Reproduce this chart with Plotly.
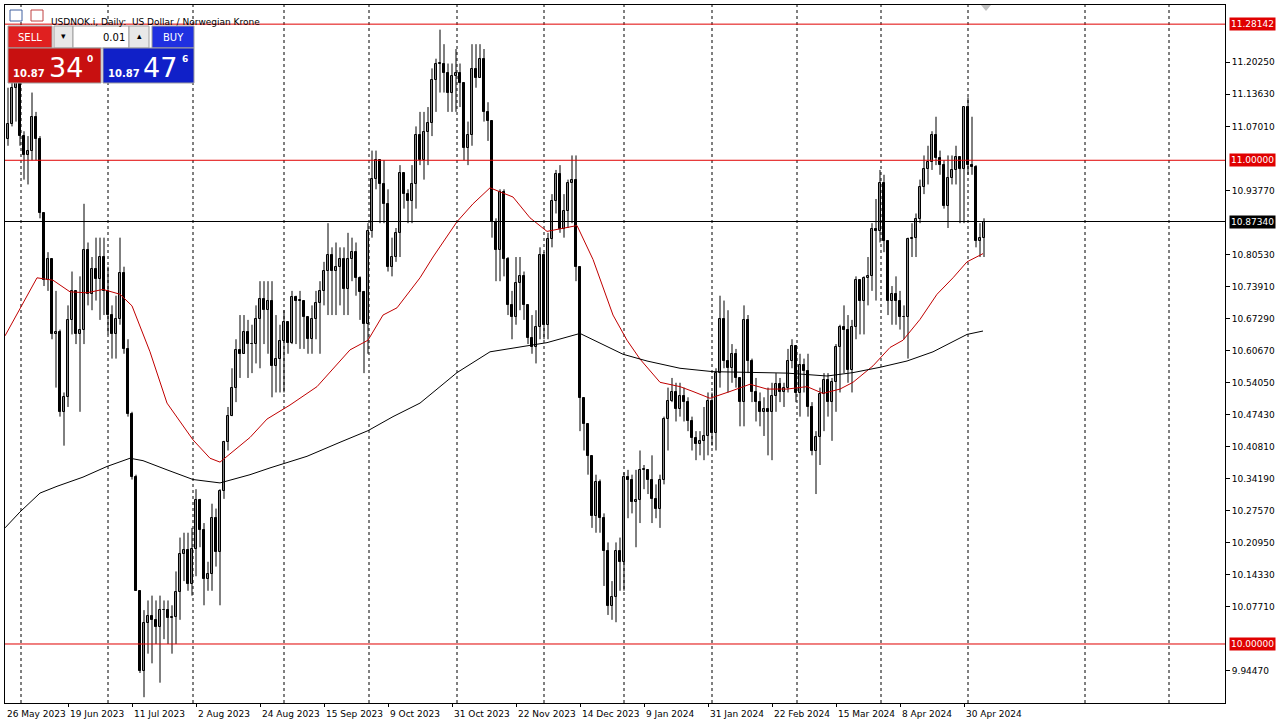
import plotly.graph_objects as go

# daily candles, USDNOK 26 May 2023 .. 7 May 2024 (bar index = trading day)
first_open = 11.065
closes = [
    11.045, 11.075, 11.15, 11.16, 11.05, 11.01, 11.02, 11.09, 11.045, 10.89,
    10.752, 10.795, 10.64, 10.645, 10.48, 10.51, 10.67, 10.73, 10.64, 10.65,
    10.814, 10.724, 10.776, 10.755, 10.80, 10.73, 10.68, 10.64, 10.671, 10.766,
    10.61, 10.475, 10.345, 10.11, 9.945, 10.044, 10.058, 10.05, 10.035, 10.07,
    10.07, 10.054, 10.055, 10.107, 10.187, 10.195, 10.125, 10.197, 10.297, 10.235,
    10.135, 10.145, 10.26, 10.19, 10.317, 10.418, 10.471, 10.53, 10.607, 10.60,
    10.645, 10.62, 10.62, 10.671, 10.713, 10.69, 10.71, 10.574, 10.59, 10.627,
    10.665, 10.623, 10.718, 10.71, 10.71, 10.675, 10.63, 10.671, 10.704, 10.73,
    10.771, 10.805, 10.771, 10.78, 10.795, 10.733, 10.795, 10.81, 10.757, 10.727,
    10.661, 10.853, 10.962, 11.0, 10.95, 10.91, 10.78, 10.80, 10.85, 10.973,
    10.93, 10.915, 10.95, 11.053, 11.0, 11.058, 11.077, 11.165, 11.20, 11.20,
    11.18, 11.14, 11.175, 11.18, 11.16, 11.025, 11.053, 11.188, 11.17, 11.21,
    11.10, 11.082, 10.873, 10.815, 10.934, 10.795, 10.70, 10.675, 10.747, 10.76,
    10.70, 10.632, 10.615, 10.656, 10.805, 10.66, 10.838, 10.915, 10.972, 10.857,
    10.895, 10.953, 10.96, 10.78, 10.508, 10.455, 10.388, 10.264, 10.335, 10.26,
    10.192, 10.078, 10.097, 10.192, 10.17, 10.345, 10.34, 10.293, 10.297, 10.36,
    10.36, 10.34, 10.30, 10.28, 10.34, 10.465, 10.503, 10.52, 10.485, 10.513,
    10.50, 10.46, 10.425, 10.413, 10.42, 10.43, 10.503, 10.437, 10.56, 10.671,
    10.585, 10.57, 10.60, 10.55, 10.50, 10.67, 10.585, 10.52, 10.50, 10.48,
    10.485, 10.48, 10.513, 10.537, 10.52, 10.53, 10.585, 10.617, 10.518, 10.576,
    10.565, 10.489, 10.398, 10.427, 10.517, 10.546, 10.50, 10.541, 10.613, 10.655,
    10.65, 10.567, 10.656, 10.752, 10.71, 10.757, 10.76, 10.857, 10.853, 10.952,
    10.834, 10.709, 10.723, 10.71, 10.675, 10.676, 10.838, 10.84, 10.878, 10.944,
    10.982, 10.996, 11.053, 11.005, 10.99, 10.905, 10.963, 10.98, 11.006, 10.982,
    11.11, 10.99, 10.986, 10.833, 10.84, 10.8734,
]
highs = [
    11.10, 11.15, 11.20, 11.20, 11.16, 11.06, 11.05, 11.14, 11.10, 11.05,
    10.88, 10.81, 10.79, 10.73, 10.65, 10.52, 10.70, 10.77, 10.73, 10.76,
    10.91, 10.83, 10.80, 10.84, 10.84, 10.84, 10.78, 10.70, 10.72, 10.84,
    10.78, 10.63, 10.48, 10.35, 10.11, 10.07, 10.09, 10.10, 10.09, 10.10,
    10.09, 10.09, 10.08, 10.15, 10.22, 10.23, 10.23, 10.24, 10.32, 10.30,
    10.25, 10.17, 10.29, 10.28, 10.32, 10.42, 10.49, 10.57, 10.63, 10.68,
    10.68, 10.67, 10.66, 10.70, 10.75, 10.75, 10.75, 10.75, 10.68, 10.66,
    10.69, 10.66, 10.73, 10.72, 10.73, 10.71, 10.66, 10.70, 10.73, 10.75,
    10.79, 10.87, 10.82, 10.83, 10.82, 10.82, 10.85, 10.84, 10.83, 10.76,
    10.73, 10.87, 11.02, 11.02, 11.0, 11.0, 10.94, 10.84, 10.86, 10.99,
    10.96, 10.94, 10.99, 11.07, 11.10, 11.10, 11.11, 11.19, 11.21, 11.27,
    11.24, 11.20, 11.20, 11.23, 11.20, 11.15, 11.08, 11.24, 11.24, 11.24,
    11.23, 11.12, 11.06, 10.88, 10.94, 10.94, 10.80, 10.73, 10.80, 10.80,
    10.77, 10.70, 10.68, 10.69, 10.82, 10.81, 10.85, 10.93, 10.98, 10.99,
    10.93, 10.96, 11.01, 11.01, 10.77, 10.50, 10.45, 10.36, 10.35, 10.34,
    10.27, 10.21, 10.13, 10.21, 10.22, 10.355, 10.36, 10.35, 10.36, 10.40,
    10.37, 10.36, 10.39, 10.33, 10.35, 10.47, 10.53, 10.55, 10.54, 10.54,
    10.53, 10.51, 10.47, 10.44, 10.44, 10.49, 10.52, 10.52, 10.57, 10.72,
    10.71, 10.69, 10.62, 10.61, 10.55, 10.70, 10.68, 10.59, 10.55, 10.52,
    10.51, 10.53, 10.54, 10.56, 10.55, 10.54, 10.61, 10.63, 10.59, 10.60,
    10.59, 10.60, 10.50, 10.44, 10.53, 10.56, 10.56, 10.55, 10.62, 10.66,
    10.70, 10.68, 10.67, 10.76, 10.75, 10.76, 10.80, 10.87, 10.92, 10.98,
    10.97, 10.82, 10.74, 10.76, 10.73, 10.70, 10.84, 10.87, 10.89, 10.96,
    11.01, 11.03, 11.06, 11.09, 11.02, 11.00, 11.01, 11.01, 11.03, 11.00,
    11.11, 11.13, 11.09, 10.99, 10.87, 10.88,
]
lows = [
    11.03, 11.03, 11.07, 11.08, 11.03, 10.96, 10.95, 11.0, 11.0, 10.88,
    10.74, 10.73, 10.63, 10.53, 10.47, 10.41, 10.49, 10.64, 10.62, 10.48,
    10.62, 10.70, 10.69, 10.71, 10.67, 10.68, 10.64, 10.59, 10.59, 10.66,
    10.60, 10.47, 10.34, 10.11, 9.94, 9.89, 9.98, 9.96, 10.0, 9.92,
    10.01, 10.0, 9.98, 10.0, 10.05, 10.13, 10.11, 10.10, 10.14, 10.20,
    10.08, 10.11, 10.11, 10.16, 10.08, 10.30, 10.40, 10.48, 10.50, 10.55,
    10.61, 10.55, 10.56, 10.58, 10.57, 10.62, 10.60, 10.51, 10.52, 10.52,
    10.52, 10.60, 10.62, 10.62, 10.61, 10.61, 10.60, 10.60, 10.63, 10.60,
    10.70, 10.68, 10.68, 10.68, 10.70, 10.68, 10.68, 10.75, 10.72, 10.67,
    10.56, 10.60, 10.84, 10.94, 10.87, 10.87, 10.77, 10.76, 10.79, 10.80,
    10.90, 10.87, 10.87, 10.90, 10.99, 10.96, 10.99, 11.05, 11.10, 11.14,
    11.14, 11.10, 11.10, 11.10, 11.11, 11.0, 10.99, 11.03, 11.15, 11.17,
    11.08, 11.04, 10.84, 10.75, 10.75, 10.76, 10.68, 10.63, 10.66, 10.69,
    10.67, 10.62, 10.60, 10.58, 10.63, 10.63, 10.63, 10.82, 10.89, 10.85,
    10.84, 10.86, 10.87, 10.75, 10.44, 10.40, 10.35, 10.24, 10.23, 10.23,
    10.12, 10.06, 10.05, 10.045, 10.11, 10.11, 10.26, 10.27, 10.20, 10.25,
    10.32, 10.31, 10.25, 10.26, 10.24, 10.33, 10.40, 10.50, 10.46, 10.47,
    10.46, 10.44, 10.40, 10.38, 10.39, 10.38, 10.39, 10.41, 10.40, 10.53,
    10.57, 10.52, 10.54, 10.53, 10.45, 10.45, 10.56, 10.50, 10.46, 10.45,
    10.43, 10.39, 10.38, 10.48, 10.50, 10.49, 10.52, 10.57, 10.50, 10.47,
    10.52, 10.47, 10.39, 10.31, 10.37, 10.44, 10.47, 10.42, 10.48, 10.52,
    10.56, 10.54, 10.52, 10.63, 10.64, 10.64, 10.70, 10.73, 10.71, 10.83,
    10.81, 10.68, 10.66, 10.66, 10.65, 10.63, 10.59, 10.80, 10.80, 10.87,
    10.93, 10.95, 10.98, 10.99, 10.97, 10.90, 10.86, 10.95, 10.95, 10.87,
    10.87, 10.97, 10.97, 10.82, 10.80, 10.80,
]

# moving averages (bar position, price)
ma_fast_x = [0.25, 8.25, 12.25, 16.5, 20.75, 24.75, 29, 32, 36.5, 40.75, 47.25, 51.5, 54, 57.25,
             61.5, 65.75, 71.5, 78.25, 86.5, 91, 94.75, 98.25, 104, 107.25, 113.25, 117.25,
             121.5, 127.25, 131.5, 135.75, 140.75, 143.25, 147.25, 152.25, 155.75, 159, 164,
             169, 172.25, 176.5, 181.5, 186.5, 190.75, 195.75, 200.75, 204.75, 209, 212.25,
             217.25, 221.5, 224.75, 229, 233.25, 237.25, 240.75, 244.75]
ma_fast_y = [10.637, 10.757, 10.752, 10.728, 10.726, 10.733, 10.723, 10.699, 10.604, 10.498,
             10.422, 10.384, 10.376, 10.398, 10.427, 10.465, 10.494, 10.532, 10.608, 10.628,
             10.680, 10.695, 10.757, 10.800, 10.873, 10.910, 10.943, 10.924, 10.881, 10.853,
             10.862, 10.865, 10.795, 10.680, 10.628, 10.589, 10.541, 10.532, 10.522, 10.508,
             10.522, 10.537, 10.527, 10.527, 10.532, 10.518, 10.527, 10.541, 10.575, 10.613,
             10.628, 10.671, 10.723, 10.757, 10.790, 10.807]
ma_slow_x = [0.25, 4, 9, 13.25, 19.75, 25.75, 31.5, 34.75, 40.75, 47.25, 54, 61.5, 66.5, 75.75,
             84, 91, 97.25, 104, 109, 113.25, 121.5, 131.5, 135.75, 144, 148.25, 154.75,
             160.75, 169, 177.25, 189.75, 195.75, 205.75, 212.25, 219, 225.75, 232.25,
             240.75, 244.75]
ma_slow_y = [10.240, 10.273, 10.312, 10.326, 10.345, 10.367, 10.384, 10.379, 10.360, 10.340,
             10.333, 10.350, 10.364, 10.388, 10.417, 10.441, 10.470, 10.498, 10.532, 10.561,
             10.604, 10.618, 10.623, 10.642, 10.625, 10.599, 10.585, 10.570, 10.563, 10.562,
             10.560, 10.554, 10.561, 10.572, 10.585, 10.604, 10.640, 10.647]

date_labels = ["26 May 2023", "19 Jun 2023", "11 Jul 2023", "2 Aug 2023", "24 Aug 2023",
               "15 Sep 2023", "9 Oct 2023", "31 Oct 2023", "22 Nov 2023", "14 Dec 2023",
               "9 Jan 2024", "31 Jan 2024", "22 Feb 2024", "15 Mar 2024", "8 Apr 2024",
               "30 Apr 2024"]
grid_bars = [4.25, 26, 47.25, 70, 91.25, 113.25, 135, 155, 177, 198.25, 219.25, 241, 270.25, 291.25]
price_ticks = [9.9447, 10.0771, 10.1433, 10.2095, 10.2757, 10.3419, 10.4081, 10.4743,
               10.5405, 10.6067, 10.6729, 10.7391, 10.8053, 10.9377, 11.0701, 11.1363, 11.2025]
level_lines = [(11.28142, "#E00000"), (11.0, "#E00000"), (10.0, "#E00000"), (10.8734, "#000000")]

FONT = "DejaVu Sans"
W, H = 1285, 725
L_, R_, T_, B_ = 5, 1225, 5, 703
X0, X1 = (L_ - 4) / 4, (R_ - 4) / 4   # bar i sits at pixel 4 + 4*i

opens = [first_open] + closes[:-1]
bars = list(range(len(closes)))
hi = [max(h, o, c) for h, o, c in zip(highs, opens, closes)]
lo = [min(l, o, c) for l, o, c in zip(lows, opens, closes)]


def px(x):
    return (x - L_) / (R_ - L_)


def py(y):
    return (B_ - y) / (B_ - T_)


fig = go.Figure()

# wicks
wx, wy = [], []
for i in bars:
    wx += [i, i, None]
    wy += [lo[i], hi[i], None]
fig.add_trace(go.Scatter(x=wx, y=wy, mode="lines", line=dict(color="black", width=1),
                         hoverinfo="skip", showlegend=False))

# bodies
base = [min(o, c) for o, c in zip(opens, closes)]
size = [max(abs(c - o), 0.0008) for o, c in zip(opens, closes)]
fill = ["white" if c >= o else "black" for o, c in zip(opens, closes)]
fig.add_trace(go.Bar(x=bars, y=size, base=base, width=0.62,
                     marker=dict(color=fill, line=dict(color="black", width=1)),
                     hoverinfo="skip", showlegend=False))

fig.add_trace(go.Scatter(x=ma_fast_x, y=ma_fast_y, mode="lines",
                         line=dict(color="#C00000", width=1), showlegend=False))
fig.add_trace(go.Scatter(x=ma_slow_x, y=ma_slow_y, mode="lines",
                         line=dict(color="black", width=1), showlegend=False))

shapes = []
for g in grid_bars:
    shapes.append(dict(type="line", xref="x", yref="paper", x0=g, x1=g, y0=0, y1=1,
                       line=dict(color="black", width=1, dash="dot"), layer="below"))
for lvl, col in level_lines:
    shapes.append(dict(type="line", xref="paper", yref="y", x0=0, x1=1, y0=lvl, y1=lvl,
                       line=dict(color=col, width=1)))

annotations = []
for lvl, col in level_lines:
    annotations.append(dict(xref="paper", yref="y", x=1, y=lvl, xanchor="left", xshift=4,
                            text=f"{lvl:.5f}", showarrow=False, bgcolor=col,
                            font=dict(color="white", size=9, family=FONT), borderpad=1))
for i, lab in enumerate(date_labels):
    xp = px(4 + 4 * i * 16)
    annotations.append(dict(xref="paper", yref="paper", x=max(xp, 0), y=0, xanchor="left",
                            yanchor="top", yshift=-4, text=lab, showarrow=False,
                            font=dict(size=9, family=FONT, color="black")))

# header
annotations.append(dict(xref="paper", yref="paper", x=px(49), y=py(15), xanchor="left",
                        text="USDNOK.i, Daily:  US Dollar / Norwegian Krone", showarrow=False,
                        font=dict(size=9, family=FONT, color="black")))
for x0, col in [(10, "#4060A0"), (31, "#C04040")]:
    shapes.append(dict(type="rect", xref="paper", yref="paper", x0=px(x0), x1=px(x0 + 12),
                       y0=py(21), y1=py(10), line=dict(color=col, width=1), fillcolor="white"))

# one-click trading panel
panel = [
    (8, 52, 26, 48, "#E02020"), (54, 73, 26, 48, "#E8E8E8"), (73, 129, 26, 48, "white"),
    (129, 149, 26, 48, "#E8E8E8"), (152, 194, 26, 48, "#2030E0"),
    (8, 101, 48, 83, "#C81010"), (103, 194, 48, 83, "#1020C8"),
]
for x0, x1, y0, y1, col in panel:
    shapes.append(dict(type="rect", xref="paper", yref="paper", x0=px(x0), x1=px(x1),
                       y0=py(y1), y1=py(y0), fillcolor=col,
                       line=dict(color="#A0A0A0", width=1)))
shapes.append(dict(type="path", xref="paper", yref="paper",
                   path=f"M {px(981)} {py(5)} L {px(991)} {py(5)} L {px(986)} {py(11)} Z",
                   fillcolor="#C0C0C0", line=dict(width=0)))


def txt(x, y, s, size, color, bold=False, anchor="left"):
    annotations.append(dict(xref="paper", yref="paper", x=px(x), y=py(y), xanchor=anchor,
                            yanchor="middle", text=f"<b>{s}</b>" if bold else s,
                            showarrow=False,
                            font=dict(size=size, color=color, family=FONT)))


txt(30, 37, "SELL", 10, "white", anchor="center")
txt(63, 36, "▾", 9, "black", anchor="center")
txt(127, 37, "0.01", 10, "black", anchor="right")
txt(139, 36, "▴", 9, "black", anchor="center")
txt(173, 37, "BUY", 10, "white", anchor="center")
txt(11, 73, "10.87", 10, "white", bold=True)
txt(47, 67, "34", 27, "white")
txt(85, 59, "0", 9, "white", bold=True)
txt(106, 73, "10.87", 10, "white", bold=True)
txt(141, 67, "47", 27, "white")
txt(180, 59, "6", 9, "white", bold=True)

fig.update_layout(
    width=W, height=H,
    margin=dict(l=L_, r=W - R_, t=T_, b=H - B_, autoexpand=False),
    paper_bgcolor="white", plot_bgcolor="white",
    shapes=shapes, annotations=annotations, bargap=0,
    xaxis=dict(range=[X0, X1], showgrid=False, zeroline=False, automargin=False,
               tickvals=[i * 16 for i in range(16)], ticktext=[""] * 16,
               ticks="outside", ticklen=3, tickcolor="black",
               showline=True, linecolor="black", mirror=True),
    yaxis=dict(range=[9.878, 11.321], side="right", showgrid=False, zeroline=False,
               automargin=False,
               tickvals=price_ticks, ticktext=[f"{t:.5f}" for t in price_ticks],
               ticks="outside", ticklen=4, tickcolor="black",
               tickfont=dict(size=9, family=FONT, color="black"),
               showline=True, linecolor="black", mirror=True),
)

# page body has a default 8px margin; drop it so the figure sits at the window corner
fig.write_html("out.html", config={"displayModeBar": False},
               post_script="document.body.style.margin='0';")
